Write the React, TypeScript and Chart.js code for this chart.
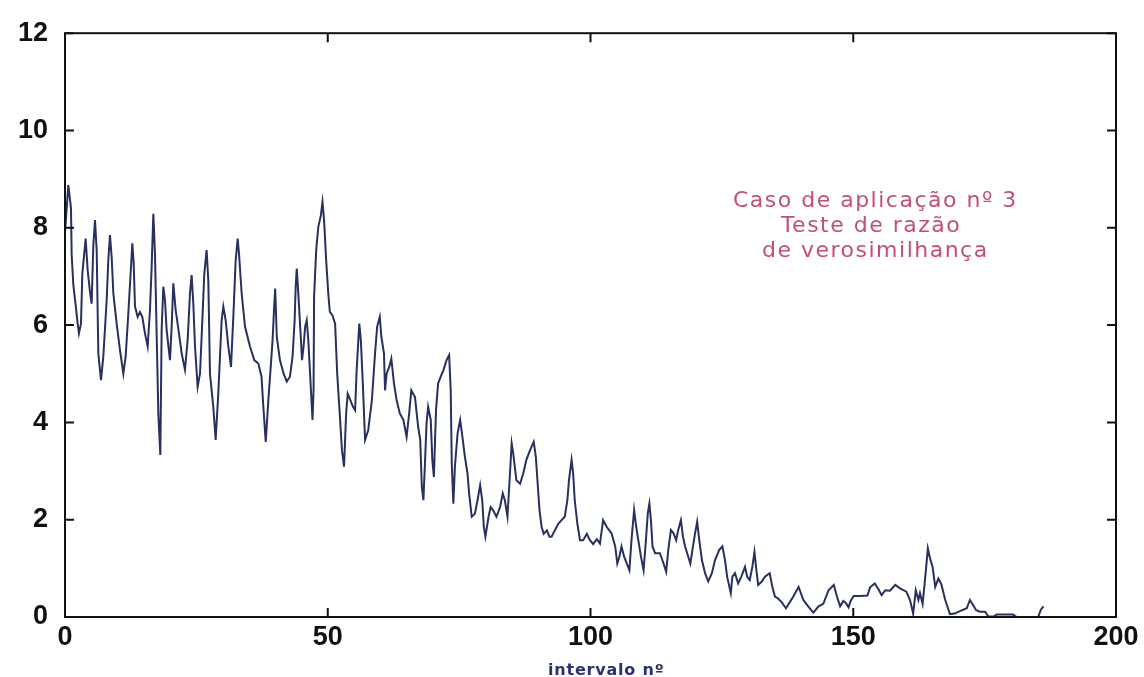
import React, { useEffect, useRef } from "react";
import { Chart, registerables } from "chart.js";

Chart.register(...registerables);

// Interval number (x) and likelihood-ratio test statistic (y)
const xValues: number[] = [
  0, 0.63, 1.14, 1.27, 1.59, 2.03, 2.41, 2.66, 3.04, 3.3, 3.93, 4.31, 4.76, 5.07, 5.39, 5.71, 6.03, 6.34, 6.85, 7.29,
  7.93, 8.24, 8.56, 8.88, 9.2, 9.83, 10.47, 11.1, 11.54, 12.05, 12.56, 12.81, 13.07, 13.32, 13.83, 14.27, 14.71, 15.22, 15.73, 16.17,
  16.49, 16.81, 17.12, 17.44, 17.76, 18.14, 18.39, 18.71, 19.03, 19.34, 19.98, 20.3, 20.61, 21.06, 21.69, 22.2, 22.83, 23.34, 23.78, 24.1,
  24.42, 24.74, 25.24, 25.69, 26.0, 26.51, 26.95, 27.27, 27.59, 28.22, 28.67, 29.17, 29.49, 29.81, 30.13, 30.57, 31.08, 31.59, 32.03, 32.48,
  32.86, 33.11, 33.62, 34.25, 35.2, 36.02, 36.8, 37.4, 37.7, 38.2, 38.7, 39.1, 39.5, 39.8, 40.0, 40.3, 40.9, 41.6, 42.2, 42.8,
  43.3, 43.7, 43.9, 44.1, 44.4, 44.9, 45.1, 45.4, 45.7, 46.0, 46.3, 46.6, 47.1, 47.3, 47.4, 47.8, 48.2, 48.7, 49.0, 49.3,
  49.7, 50.1, 50.4, 50.9, 51.4, 51.8, 52.2, 52.7, 53.1, 53.5, 53.8, 54.3, 54.8, 55.2, 55.5, 56.0, 56.3, 56.7, 57.1, 57.7,
  58.4, 59.0, 59.4, 59.9, 60.2, 60.7, 60.9, 61.2, 61.7, 62.1, 62.6, 63.1, 63.7, 64.4, 65.0, 65.5, 65.9, 66.6, 67.2, 67.6,
  67.9, 68.2, 68.5, 68.8, 69.1, 69.6, 69.9, 70.2, 70.6, 71.0, 71.5, 72.0, 72.6, 73.1, 73.4, 73.6, 73.9, 74.2, 74.7, 75.2,
  75.7, 76.1, 76.6, 76.9, 77.4, 78.0, 78.5, 79.0, 79.4, 79.7, 80.0, 80.6, 81.0, 81.5, 82.1, 82.8, 83.3, 83.7, 84.2, 84.6,
  85.0, 85.3, 85.9, 86.6, 87.2, 87.8, 88.5, 89.2, 89.6, 89.9, 90.3, 90.7, 91.1, 91.7, 92.2, 92.6, 93.2, 93.9, 94.5, 95.1,
  95.6, 95.9, 96.4, 96.7, 97.0, 97.5, 98.0, 98.6, 99.3, 99.9, 100.5, 101.2, 101.8, 102.4, 103.1, 104.0, 104.7, 105.1, 105.5, 105.9,
  106.4, 106.9, 107.4, 107.8, 108.3, 108.7, 109.1, 109.6, 110.1, 110.5, 110.9, 111.2, 111.5, 111.8, 112.3, 113.2, 113.9, 114.4, 114.8, 115.3,
  115.8, 116.3, 116.7, 117.2, 117.6, 118.0, 118.4, 119.0, 119.5, 119.9, 120.3, 120.7, 121.2, 121.8, 122.4, 123.1, 123.7, 124.5, 125.1, 125.6,
  126.0, 126.7, 127.0, 127.5, 128.1, 128.7, 129.4, 129.8, 130.3, 130.8, 131.2, 131.5, 131.9, 132.6, 133.2, 134.1, 134.6, 135.1, 135.7, 136.4,
  137.2, 137.9, 138.6, 139.6, 140.5, 141.5, 142.4, 143.4, 144.3, 145.3, 146.3, 146.9, 147.5, 148.1, 148.6, 149.1, 149.5, 150.1, 151.3, 152.7,
  153.2, 154.1, 154.8, 155.4, 156.1, 157.0, 158.0, 158.9, 160.1, 160.8, 161.4, 161.9, 162.4, 162.7, 163.2, 163.7, 164.2, 164.6, 165.1, 165.6,
  166.2, 166.8, 167.5, 168.4, 169.3, 170.3, 171.6, 172.2, 172.7, 173.4, 174.1, 175.1, 175.7, 176.7, 177.3, 179.2, 180.4, 181.1, 183.0, 185.2,
  185.7, 186.2,
];

const yValues: number[] = [
  7.9, 8.88, 8.4, 7.44, 6.82, 6.41, 6.03, 5.83, 6.03, 7.06, 7.78, 7.13, 6.68, 6.44, 7.64, 8.16, 7.54, 5.42, 4.87, 5.35,
  6.51, 7.33, 7.85, 7.4, 6.65, 6.03, 5.48, 5.0, 5.35, 6.24, 7.2, 7.68, 7.27, 6.38, 6.17, 6.27, 6.17, 5.83, 5.56, 6.31,
  7.2, 8.29, 7.47, 5.83, 4.19, 3.33, 5.9, 6.79, 6.51, 5.9, 5.28, 5.97, 6.86, 6.31, 5.83, 5.42, 5.08, 5.69, 6.65, 7.03,
  6.44, 5.56, 4.73, 5.0, 5.76, 7.06, 7.54, 6.92, 5.0, 4.32, 3.64, 4.59, 5.35, 6.1, 6.38, 6.1, 5.56, 5.14, 6.17, 7.33,
  7.78, 7.47, 6.65, 5.97, 5.56, 5.28, 5.21, 4.94, 4.39, 3.6, 4.46, 5.07, 5.69, 6.38, 6.75, 5.76, 5.28, 5.0, 4.84, 4.94,
  5.35, 6.1, 6.79, 7.16, 6.65, 5.69, 5.28, 5.56, 5.97, 6.1, 5.69, 5.07, 4.05, 4.66, 6.58, 7.54, 8.02, 8.26, 8.53, 8.16,
  7.33, 6.65, 6.27, 6.2, 6.03, 5.0, 4.32, 3.43, 3.09, 4.19, 4.59, 4.46, 4.32, 4.25, 5.07, 6.03, 5.69, 4.73, 3.64, 3.84,
  4.46, 5.42, 5.97, 6.17, 5.76, 5.42, 4.66, 5.0, 5.14, 5.31, 4.8, 4.46, 4.19, 4.05, 3.7, 4.19, 4.66, 4.52, 3.91, 3.64,
  2.68, 2.4, 3.16, 3.98, 4.32, 4.05, 3.23, 2.88, 4.25, 4.8, 4.94, 5.07, 5.28, 5.38, 4.66, 3.16, 2.33, 3.09, 3.77, 4.05,
  3.64, 3.29, 2.95, 2.54, 2.06, 2.12, 2.4, 2.71, 2.4, 1.85, 1.65, 2.06, 2.26, 2.19, 2.06, 2.26, 2.54, 2.4, 2.06, 2.81,
  3.57, 3.36, 2.81, 2.74, 2.95, 3.23, 3.43, 3.6, 3.29, 2.81, 2.19, 1.85, 1.71, 1.78, 1.65, 1.65, 1.78, 1.92, 1.99, 2.06,
  2.4, 2.81, 3.23, 2.95, 2.4, 1.92, 1.58, 1.58, 1.71, 1.58, 1.5, 1.6, 1.51, 1.99, 1.85, 1.72, 1.45, 1.1, 1.24, 1.45,
  1.24, 1.1, 0.96, 1.58, 2.2, 1.85, 1.58, 1.24, 0.96, 1.51, 2.13, 2.33, 1.99, 1.45, 1.31, 1.31, 1.1, 0.93, 1.38, 1.79,
  1.72, 1.58, 1.79, 1.99, 1.65, 1.45, 1.31, 1.1, 1.45, 1.72, 1.96, 1.58, 1.17, 0.9, 0.73, 0.9, 1.17, 1.38, 1.45, 1.17,
  0.83, 0.49, 0.83, 0.9, 0.69, 0.83, 1.03, 0.83, 0.76, 1.03, 1.34, 1.03, 0.66, 0.73, 0.83, 0.9, 0.62, 0.42, 0.38, 0.3,
  0.18, 0.3, 0.42, 0.62, 0.35, 0.21, 0.09, 0.22, 0.27, 0.55, 0.66, 0.42, 0.22, 0.33, 0.29, 0.2, 0.33, 0.43, 0.43, 0.44,
  0.61, 0.69, 0.57, 0.45, 0.55, 0.54, 0.66, 0.59, 0.52, 0.35, 0.07, 0.55, 0.35, 0.49, 0.27, 0.82, 1.41, 1.21, 1.03, 0.62,
  0.79, 0.66, 0.35, 0.06, 0.07, 0.12, 0.18, 0.35, 0.26, 0.14, 0.11, 0.11, 0.01, 0.01, 0.05, 0.05, 0.05, 0.0, 0.0, 0.0,
  0.15, 0.22,
];

const xTicks: number[] = [0, 50, 100, 150, 200];
const yTicks: number[] = [0, 2, 4, 6, 8, 10, 12];
const xAxisTitle = "intervalo nº";
const noteLines: string[] = ["Caso de aplicação nº 3", "Teste de razão ", "de verosimilhança"];

const LINE_COLOR = "#27305f";
const NOTE_COLOR = "#c44d7c";
const TITLE_COLOR = "#2a3270";
const FONT = "'Liberation Sans', Arial, sans-serif";
const WIDE_FONT = "'DejaVu Sans', Verdana, sans-serif";

const framePlugin = {
  id: "frameTicks",
  afterDraw(chart: any) {
    const { ctx, chartArea } = chart;
    const { left, right, top, bottom } = chartArea;
    const xs = chart.scales.x;
    const ys = chart.scales.y;
    const tl = 9;
    ctx.save();
    ctx.strokeStyle = "#111";
    ctx.lineWidth = 2;
    ctx.strokeRect(left, top, right - left, bottom - top);
    ctx.beginPath();
    xTicks.forEach((v) => {
      const px = xs.getPixelForValue(v);
      ctx.moveTo(px, bottom);
      ctx.lineTo(px, bottom - tl);
      ctx.moveTo(px, top);
      ctx.lineTo(px, top + tl);
    });
    yTicks.forEach((v) => {
      const py = ys.getPixelForValue(v);
      ctx.moveTo(left, py);
      ctx.lineTo(left + tl, py);
      ctx.moveTo(right, py);
      ctx.lineTo(right - tl, py);
    });
    ctx.stroke();

    // annotation text
    ctx.fillStyle = NOTE_COLOR;
    ctx.font = `22px ${WIDE_FONT}`;
    try {
      (ctx as any).letterSpacing = "1.5px";
    } catch (e) {}
    ctx.textAlign = "center";
    ctx.textBaseline = "middle";
    const cx = xs.getPixelForValue(154.2);
    const y0 = ys.getPixelForValue(8.55);
    noteLines.forEach((t, i) => {
      ctx.fillText(t, cx, y0 + i * 25);
    });

    // x axis title
    ctx.fillStyle = TITLE_COLOR;
    ctx.font = `bold 16px ${WIDE_FONT}`;
    try {
      (ctx as any).letterSpacing = "0.8px";
    } catch (e) {}
    ctx.textBaseline = "alphabetic";
    ctx.fillText(xAxisTitle, xs.getPixelForValue(103), bottom + 58);
    ctx.restore();
  },
};

export default function App() {
  const ref = useRef<HTMLCanvasElement | null>(null);
  useEffect(() => {
    if (!ref.current) return;
    const data = xValues.map((x, i) => ({ x, y: yValues[i] }));
    const chart = new Chart(ref.current, {
      type: "line",
      data: {
        datasets: [
          {
            data,
            borderColor: LINE_COLOR,
            borderWidth: 2,
            pointRadius: 0,
            tension: 0,
            fill: false,
          },
        ],
      },
      options: {
        responsive: false,
        animation: false,
        maintainAspectRatio: false,
        layout: { padding: { left: 0, top: 32, right: 28, bottom: 0 } },
        plugins: { legend: { display: false }, tooltip: { enabled: false } },
        scales: {
          x: {
            type: "linear",
            min: 0,
            max: 200,
            afterFit: (s: any) => {
              s.height = 60;
            },
            afterBuildTicks: (s: any) => {
              s.ticks = xTicks.map((v) => ({ value: v }));
            },
            grid: { display: false, drawTicks: false },
            border: { display: false },
            ticks: {
              color: "#111",
              padding: 4,
              maxRotation: 0,
              font: { family: FONT, size: 27, weight: "bold" },
            },
            title: { display: false },
          },
          y: {
            type: "linear",
            min: 0,
            max: 12,
            afterFit: (s: any) => {
              s.width = 65;
            },
            afterBuildTicks: (s: any) => {
              s.ticks = yTicks.map((v) => ({ value: v }));
            },
            grid: { display: false, drawTicks: false },
            border: { display: false },
            ticks: {
              color: "#111",
              padding: 17,
              font: { family: FONT, size: 27, weight: "bold" },
            },
          },
        },
      },
      plugins: [framePlugin],
    });
    return () => chart.destroy();
  }, []);
  return (
    <div style={{ position: "fixed", left: 0, top: 0, width: 1144, height: 677, background: "#fff" }}>
      <canvas ref={ref} width={1144} height={677} style={{ width: 1144, height: 677 }} />
    </div>
  );
}
